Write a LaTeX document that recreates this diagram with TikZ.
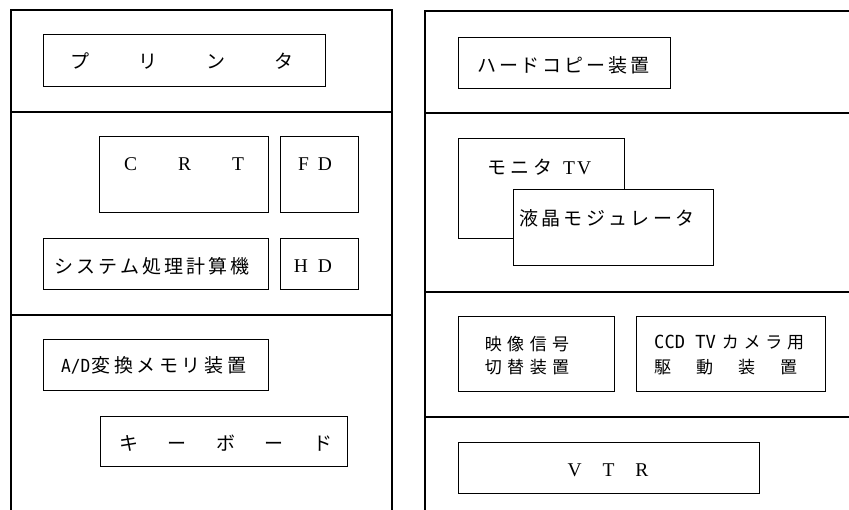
\documentclass[tikz,border=0pt]{standalone}
\usepackage{fontspec}
\usepackage{graphicx}
\newfontfamily\jp{Noto Sans CJK JP}
\newfontfamily\monofont{DejaVu Sans Mono}
\newfontfamily\serifont{Liberation Serif}
\makeatletter
\def\spcend{\spcend@marker}
\newcommand\spc[2]{\def\spcg{\kern#1\relax}\spcloop#2\spcend}
\def\spcloop#1#2{#1\ifx\spcend#2\expandafter\@gobble\else\spcg\expandafter\@firstofone\fi{\spcloop#2}}
\makeatother
\newcommand\J[1][19]{\fontsize{#1}{#1}\selectfont\jp}
\newcommand\R{\fontsize{19.5}{19.5}\selectfont\serifont}
\newcommand\M[2]{\scalebox{#1}[1]{\fontsize{18}{18}\selectfont\monofont #2}}
\tikzset{
  box/.style={draw, line width=0.9pt, fill=white, inner sep=0pt, anchor=north west},
  txt/.style={inner sep=0pt, anchor=center},
  txtw/.style={inner sep=0pt, anchor=west},
  rack/.style={line width=1.1pt}
}
\newcommand\bx[5]{\node[box, minimum width={(#4-#2)*1pt}, minimum height={(#5-#3)*1pt}] (#1) at (#2,#3) {};}
\begin{document}
\begin{tikzpicture}[x=1pt,y=-1pt]
\useasboundingbox (0,0) rectangle (849,510);
% left rack
\draw[rack] (11,510) -- (11,10) -- (392,10) -- (392,510);
\draw[rack] (11,112) -- (392,112);
\draw[rack] (11,315) -- (392,315);
% right rack
\draw[rack] (425,510) -- (425,11) -- (849,11);
\draw[rack] (425,113) -- (849,113);
\draw[rack] (425,292) -- (849,292);
\draw[rack] (425,417) -- (849,417);
% boxes left
\bx{printer}{43}{34}{325}{86}
\bx{crt}{99}{136}{268}{212}
\bx{fd}{280}{136}{358}{212}
\bx{sys}{43}{238}{268}{289}
\bx{hd}{280}{238}{358}{289}
\bx{ad}{43}{339}{268}{390}
\bx{kb}{100}{416}{347}{466}
% boxes right
\bx{hc}{458}{37}{670}{88}
\bx{mon}{458}{138}{624}{238}
\bx{lcd}{513}{189}{713}{265}
\bx{eizo}{458}{316}{614}{391}
\bx{ccd}{636}{316}{825}{391}
\bx{vtr}{458}{442}{759}{493}
% texts left
\node[txt] (tprinter) at (182,61) {\J\spc{49pt}{プリンタ}};
\node[txt] (tcrt) at (184,164) {\R C\kern41pt R\kern41pt T};
\node[txt] (tfd) at (315,164) {\R F\kern9pt D};
\node[txt] (tsys) at (152,266) {\J\spc{3pt}{システム処理計算機}};
\node[txt] (thd) at (313,266) {\R H\kern10pt D};
\node[txtw] (tad) at (61,365) {\M{0.9}{A/D}\kern1pt\J\spc{3.6pt}{変換メモリ装置}};
\node[txt] (tkb) at (226,443) {\J\spc{29.5pt}{キーボード}};
% texts right
\node[txtw] (thc) at (477,65) {\J\spc{2.9pt}{ハードコピー装置}};
\node[txtw] (tmon) at (487,167) {\J\spc{4pt}{モニタ}\kern11pt\R T\kern2pt V};
\node[txtw] (tlcd) at (519,218) {\J\spc{3.3pt}{液晶モジュレータ}};
\node[txt] (teizo1) at (527,344) {\J[17]\spc{5.5pt}{映像信号}};
\node[txt] (teizo2) at (527,367) {\J[17]\spc{5.5pt}{切替装置}};
\node[txtw] (tccd1) at (654,343) {\M{0.95}{CCD TV}\kern6pt\J[17]\spc{4.7pt}{カメラ用}};
\node[txtw] (tccd2) at (654,367) {\J[17]\spc{25pt}{駆動装置}};
\node[txt] (tvtr) at (608,470) {\R V\kern21pt T\kern21pt R};
\end{tikzpicture}
\end{document}
